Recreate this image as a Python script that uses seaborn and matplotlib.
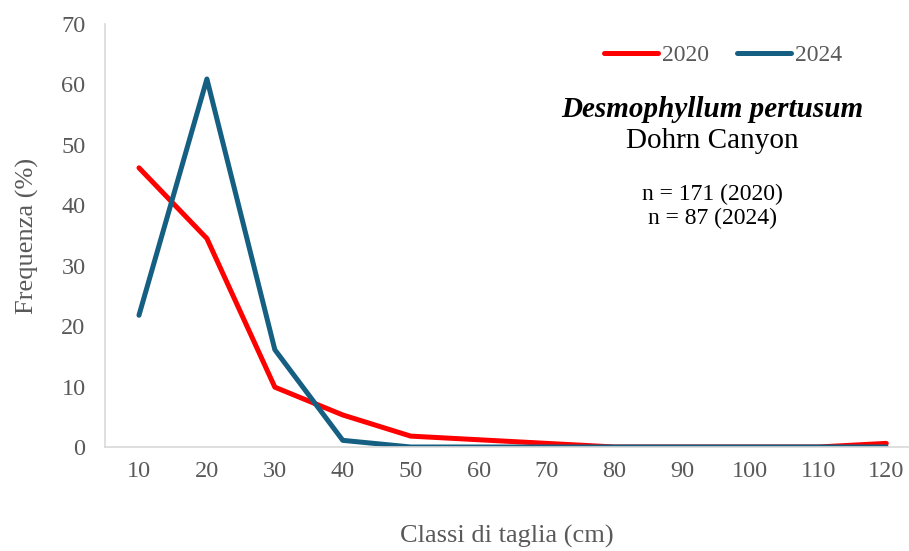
import matplotlib
matplotlib.use("Agg")
import matplotlib.pyplot as plt
import seaborn as sns
import pandas as pd

# Size-class frequency distribution (%) for two survey years
size_classes = ["10", "20", "30", "40", "50", "60", "70", "80", "90", "100", "110", "120"]
freq_2020 = [46.2, 34.5, 9.9, 5.3, 1.8, 1.2, 0.6, 0.0, 0.0, 0.0, 0.0, 0.6]
freq_2024 = [21.8, 60.9, 16.1, 1.1, 0.0, 0.0, 0.0, 0.0, 0.0, 0.0, 0.0, 0.0]
years = ["2020", "2024"]
colors = {"2020": "#FF0000", "2024": "#156082"}

df = pd.DataFrame({
    "classe": size_classes * 2,
    "freq": freq_2020 + freq_2024,
    "anno": [years[0]] * len(size_classes) + [years[1]] * len(size_classes),
})

sns.set_theme(style="white")
plt.rcParams["font.family"] = ["Liberation Serif", "DejaVu Serif"]

fig = plt.figure(figsize=(9.09, 5.51), dpi=100)
ax = fig.add_axes([105 / 909, 104 / 551, (908 - 105) / 909, (447 - 24) / 551])

sns.lineplot(data=df, x="classe", y="freq", hue="anno", palette=colors,
             linewidth=3.6, ax=ax, sort=False, solid_capstyle="round")

ax.set_xlim(-0.5, 11.32)
ax.set_ylim(0, 70)
ax.set_yticks(range(0, 71, 10))

grey = "#595959"
ax.tick_params(axis="both", length=0, labelsize=17.5, colors=grey)
ax.tick_params(axis="y", pad=14)
ax.tick_params(axis="x", pad=10)
for side in ["top", "right"]:
    ax.spines[side].set_visible(False)
ax.spines["left"].set_color("#D9D9D9")
ax.spines["bottom"].set_color("#D9D9D9")
ax.spines["left"].set_linewidth(1.2)
ax.spines["bottom"].set_linewidth(1.2)

ax.set_xlabel("Classi di taglia (cm)", fontsize=19, color=grey, labelpad=31)
ax.set_ylabel("Frequenza (%)", fontsize=19, color=grey, labelpad=16)

leg = ax.legend(loc="center left", bbox_to_anchor=(0.621, 0.925), ncol=2, frameon=False,
                fontsize=17, handlelength=2.3, handletextpad=0.15, columnspacing=1.2,
                borderaxespad=0.0, borderpad=0.0)
for t in leg.get_texts():
    t.set_color(grey)
for line in leg.get_lines():
    line.set_linewidth(3.6)

ax.text(0.756, 0.797, "Desmophyllum pertusum", transform=ax.transAxes, ha="center",
        va="center", fontsize=21, fontweight="bold", fontstyle="italic", color="black")
ax.text(0.756, 0.723, "Dohrn Canyon", transform=ax.transAxes, ha="center",
        va="center", fontsize=21, color="black")
ax.text(0.756, 0.598, "n = 171 (2020)", transform=ax.transAxes, ha="center",
        va="center", fontsize=17, color="black")
ax.text(0.756, 0.541, "n = 87 (2024)", transform=ax.transAxes, ha="center",
        va="center", fontsize=17, color="black")

fig.savefig("out.png", dpi=100)
